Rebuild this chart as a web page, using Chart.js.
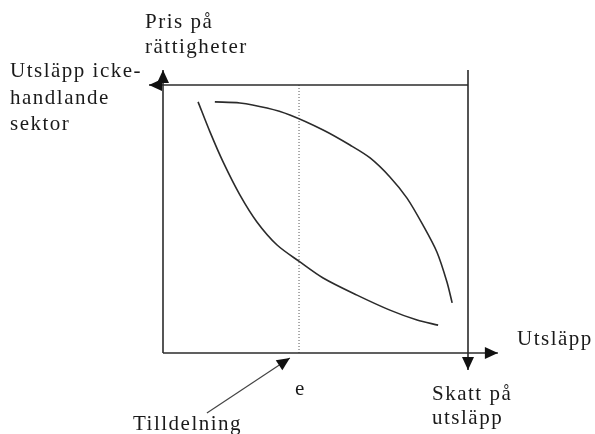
<!DOCTYPE html>
<html>
<head>
<meta charset="utf-8">
<script src="https://cdn.jsdelivr.net/npm/chart.js@4.4.0/dist/chart.umd.min.js"></script>
<style>
  html, body { margin: 0; padding: 0; background: #fff; }
  #wrap { width: 595px; height: 434px; }
</style>
</head>
<body>
<div id="wrap"><canvas id="chart-canvas" width="595" height="434"></canvas></div>
<script>
// Curve data (x: 0..100 from the price axis to the tax line, y: 0..100 from the emissions axis to the top line)
const curveAX = [11.5, 15.4, 19.7, 25.2, 30.8, 37.4, 44.9, 52.5, 63.6, 74.4, 83.3, 90.2];
const curveAY = [93.7, 82.5, 71.3, 59.0, 48.9, 40.3, 34.0, 28.0, 21.6, 16.0, 12.3, 10.4];
const curveBX = [17.0, 25.2, 34.1, 41.6, 52.5, 61.3, 67.9, 74.4, 80.0, 85.2, 89.8, 93.1, 94.8];
const curveBY = [93.7, 93.3, 91.4, 88.8, 83.2, 77.6, 72.8, 65.7, 57.8, 47.8, 37.7, 26.5, 18.7];

// Allocation level e and the frame of the diagram
const allocationE = 44.6;
const frameTop = 100;
const frameRight = 100;

const ink = "#2b2b2b";

function pts(xs, ys) {
    return xs.map((x, i) => ({ x: x, y: ys[i] }));
}

function segment(points, opts) {
    return Object.assign({
        data: points,
        showLine: true,
        pointRadius: 0,
        borderColor: ink,
        borderWidth: 1.6,
        clip: false,
        tension: 0
    }, opts || {});
}

const datasets = [
    segment(pts(curveAX, curveAY), { tension: 0.3 }),
    segment(pts(curveBX, curveBY), { tension: 0.3 }),
    // vertical axis (price of permits), arrow up
    segment([{ x: 0, y: 0 }, { x: 0, y: 105.6 }], { arrow: true }),
    // horizontal axis (emissions), arrow right
    segment([{ x: 0, y: 0 }, { x: 109.8, y: 0 }], { arrow: true }),
    // top line (emissions non-trading sector), arrow left
    segment([{ x: frameRight, y: frameTop }, { x: -4.6, y: frameTop }], { arrow: true, borderWidth: 1.4 }),
    // right line (tax on emissions), arrow down
    segment([{ x: frameRight, y: 105.6 }, { x: frameRight, y: -6.3 }], { arrow: true }),
    // dotted line at e
    segment([{ x: allocationE, y: 0 }, { x: allocationE, y: frameTop }], { borderWidth: 1, borderColor: "#555", borderDash: [1, 2] }),
    // pointer from "Tilldelning"
    segment([{ x: 14.4, y: -22.4 }, { x: 41.6, y: -1.9 }], { arrow: true, borderWidth: 1.2, borderColor: "#444" })
];

const arrowPlugin = {
    id: "arrows",
    afterDatasetsDraw(chart) {
        const ctx = chart.ctx;
        chart.data.datasets.forEach((ds, i) => {
            if (!ds.arrow) return;
            const pts = chart.getDatasetMeta(i).data;
            const a = pts[pts.length - 2], b = pts[pts.length - 1];
            const ang = Math.atan2(b.y - a.y, b.x - a.x);
            const len = 13, half = 6;
            ctx.save();
            ctx.translate(b.x, b.y);
            ctx.rotate(ang);
            ctx.beginPath();
            ctx.moveTo(0, 0);
            ctx.lineTo(-len, -half);
            ctx.lineTo(-len, half);
            ctx.closePath();
            ctx.fillStyle = "#111";
            ctx.fill();
            ctx.restore();
        });
    }
};

const labelPlugin = {
    id: "labels",
    afterDraw(chart) {
        const ctx = chart.ctx;
        ctx.save();
        ctx.fillStyle = "#1a1a1a";
        ctx.font = "21px 'Liberation Serif', 'DejaVu Serif', serif";
        ctx.letterSpacing = "1.5px";
        ctx.textBaseline = "alphabetic";
        ctx.textAlign = "left";
        const lines = [
            ["Pris på", 145, 28],
            ["rättigheter", 145, 53],
            ["Utsläpp icke-", 10, 77],
            ["handlande", 10, 104],
            ["sektor", 10, 130],
            ["Utsläpp", 517, 345],
            ["Skatt på", 432, 400],
            ["utsläpp", 432, 424],
            ["e", 295, 395],
            ["Tilldelning", 133, 430]
        ];
        lines.forEach(([t, x, y]) => ctx.fillText(t, x, y));
        ctx.restore();
    }
};

new Chart(document.getElementById("chart-canvas").getContext("2d"), {
    type: "scatter",
    data: { datasets: datasets },
    options: {
        responsive: false,
        animation: false,
        layout: { padding: { left: 163, right: 127, top: 85, bottom: 81 } },
        scales: {
            x: { type: "linear", min: 0, max: 100, display: false },
            y: { type: "linear", min: 0, max: 100, display: false }
        },
        plugins: {
            legend: { display: false },
            tooltip: { enabled: false }
        }
    },
    plugins: [arrowPlugin, labelPlugin]
});
</script>
</body>
</html>
